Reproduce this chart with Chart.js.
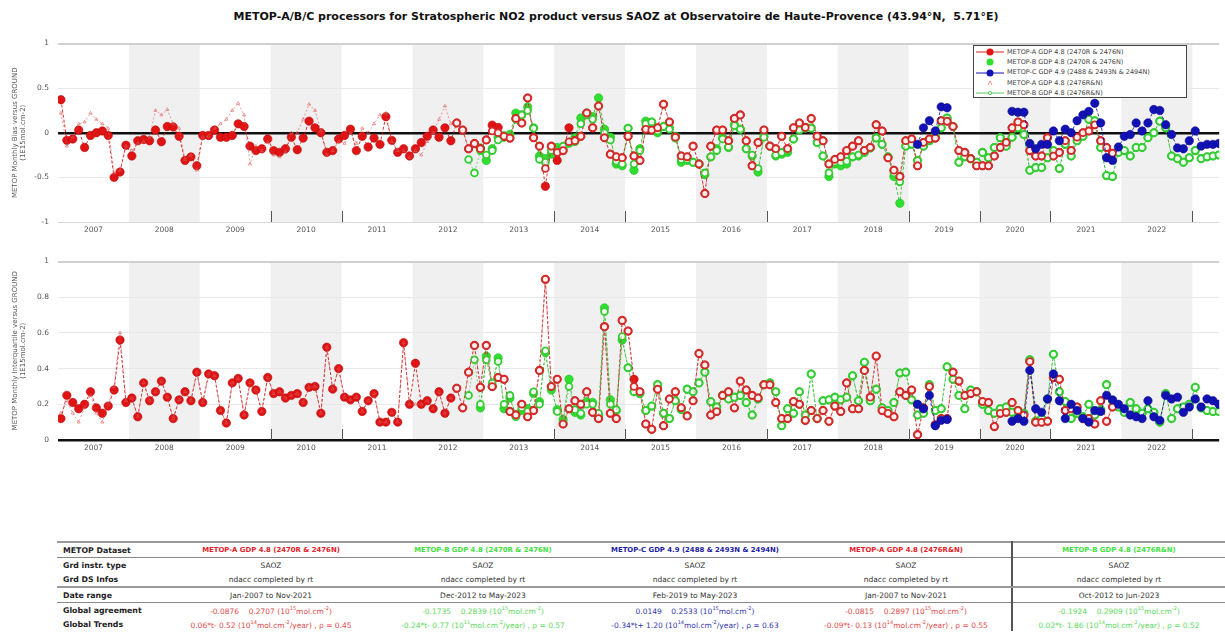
<!DOCTYPE html>
<html>
<head>
<meta charset="utf-8">
<script src="https://cdn.jsdelivr.net/npm/chart.js@4.4.1/dist/chart.umd.min.js"></script>
<style>
  body { margin:0; background:#fff; width:1225px; height:634px; overflow:hidden; position:relative; font-family:"DejaVu Sans", sans-serif; }
  #title { position:absolute; top:10px; left:0; width:1232px; text-align:center; font-weight:bold; font-size:11px; color:#111; }
  .plot { position:absolute; left:0; width:1225px; height:210px; }
  #topWrap { top:30px; }
  #botWrap { top:248px; }
  #legend { position:absolute; left:973px; top:45px; width:214px; height:53px; border:1px solid #444; background:#fff; font-size:6.5px; color:#444; box-sizing:border-box; padding-top:1px; }
  #legend div { height:10.2px; line-height:10.2px; white-space:nowrap; }
  #legend svg { vertical-align:middle; margin:0 3px 0 2px; }
  #stats { position:absolute; left:57px; top:541px; width:1168px; border-collapse:collapse; table-layout:fixed; font-size:7.5px; color:#333; border-top:2px solid #999; }
  #stats td, #stats th { height:14px; padding:0; text-align:center; white-space:nowrap; overflow:hidden; }
  #stats th { text-align:left; padding-left:6px; font-weight:bold; color:#222; font-size:7.8px; }
  #stats .hdr td { font-weight:bold; font-size:6.9px; }
  #stats tr.line td, #stats tr.line th { border-bottom:1px solid #888; }
  #stats tr.thick td, #stats tr.thick th { border-bottom:2px solid #999; }
  #stats td.last { border-left:2px solid #555; }
  #stats sup { font-size:5px; }
</style>
</head>
<body>
<div id="title">METOP-A/B/C processors for Stratospheric NO2 product versus SAOZ at Observatoire de Haute-Provence (43.94°N,&nbsp; 5.71°E)</div>
<div class="plot" id="topWrap"><canvas id="biasChart"></canvas></div>
<div class="plot" id="botWrap"><canvas id="iqrChart"></canvas></div>
<div id="legend"></div>
<table id="stats"></table>
<script>
// ---- data (monthly values, 1E15 molec/cm2) ----
const yearLabels = [2007, 2008, 2009, 2010, 2011, 2012, 2013, 2014, 2015, 2016, 2017, 2018, 2019, 2020, 2021, 2022];
const shadedYears = [2008, 2010, 2012, 2014, 2016, 2018, 2020, 2022];
const markedYears = [2010, 2011, 2014, 2015, 2017, 2019, 2020, 2021, 2023];
const biasTicks = [-1, -0.5, 0, 0.5, 1];
const iqrTicks = [0, 0.2, 0.4, 0.6, 0.8, 1];

const seriesNames = ['METOP-A GDP 4.8 (2470R & 2476N)', 'METOP-B GDP 4.8 (2470R & 2476N)', 'METOP-C GDP 4.9 (2488 & 2493N & 2494N)', 'METOP-A GDP 4.8 (2476R&N)', 'METOP-B GDP 4.8 (2476R&N)'];
// first month of each series: [year, month]
const seriesStart = [[2007, 1], [2012, 12], [2019, 2], [2007, 1], [2012, 10]];

// bias, METOP-A 2470R & 2476N  (Jan 2007 - Nov 2021)
const biasA = [
  0.37, -0.085, -0.07, 0.03, -0.165, -0.03, 0, 0.02, -0.03, -0.50, -0.44, -0.14,
  -0.26, -0.09, -0.075, -0.09, 0.03, -0.1, 0.07, 0.065, -0.04, -0.31, -0.27, -0.37,
  -0.03, -0.03, 0.03, -0.05, -0.05, -0.03, 0.1, 0.07, -0.15, -0.2, -0.18, -0.07,
  -0.2, -0.22, -0.18, -0.05, -0.19, -0.06, 0.13, 0.055, 0, -0.22, -0.2, -0.07,
  -0.03, 0.04, -0.2, -0.04, -0.16, -0.06, -0.13, 0.18, -0.085, -0.22, -0.18, -0.26,
  -0.18, -0.11, -0.04, 0.03, -0.05, 0.055, -0.09, 0.11, 0.03, -0.18, -0.12, -0.18,
  -0.08, 0.085, 0.06, -0.04, -0.06, 0.16, 0.11, 0.39, -0.055, -0.15, -0.6, -0.15,
  -0.31, -0.2, 0.055, -0.09, -0.04, 0.22, 0.055, 0.3, -0.055, -0.24, -0.27, -0.28,
  -0.04, -0.26, -0.31, 0.04, 0.03, 0.055, 0.32, 0.12, -0.05, -0.26, -0.27, -0.15,
  -0.35, -0.68, -0.15, 0.03, 0.03, -0.09, 0.16, 0.2, -0.09, -0.37, -0.11, 0.03,
  -0.15, -0.18, -0.04, -0.18, 0.055, 0.11, 0.06, 0.16, -0.04, -0.09, -0.35, -0.3,
  -0.27, -0.2, -0.15, -0.09, -0.2, -0.165, 0.09, 0.02, -0.28, -0.42, -0.49, -0.09,
  -0.07, -0.37, -0.11, -0.07, -0.06, 0.135, 0.13, 0.07, -0.2, -0.22, -0.29, -0.37,
  -0.37, -0.37, -0.26, -0.165, -0.11, 0.055, 0.12, 0.09, -0.2, -0.26, -0.26, -0.055,
  -0.26, -0.22, -0.09, -0.2, -0.05, 0, 0.02, 0.09, -0.09, -0.165, -0.23
];
// bias, METOP-B 2470R & 2476N  (Dec 2012 - May 2023)
const biasB = [
  -0.17,
  -0.31, -0.18, -0.05, -0.05, -0.02, 0.22, 0.2, 0.29, 0.055, -0.26, -0.29, -0.24,
  -0.165, -0.165, -0.11, -0.055, 0.165, 0.22, 0.18, 0.39, 0.04, -0.05, -0.35, -0.37,
  0.05, -0.42, -0.18, 0.13, 0.12, 0, 0.07, 0.055, -0.04, -0.33, -0.31, -0.33,
  -0.35, -0.47, -0.27, -0.18, -0.055, -0.165, 0.09, 0.04, -0.18, -0.26, -0.44, -0.04,
  -0.15, -0.26, -0.24, -0.22, -0.07, 0.03, 0.055, 0.055, -0.11, -0.26, -0.49, -0.35,
  -0.37, -0.35, -0.27, -0.26, -0.22, -0.17, -0.055, -0.13, -0.27, -0.49, -0.79, -0.15,
  -0.13, -0.31, -0.15, -0.09, -0.04, 0.055, 0.165, 0.07, -0.33, -0.27, -0.29, -0.33,
  -0.22, -0.28, -0.165, -0.055, -0.15, -0.05, 0.055, -0.02, -0.42, -0.39, -0.39, -0.28,
  -0.2, -0.4, -0.13, -0.26, -0.09, -0.04, 0.15, 0.135, -0.165, -0.48, -0.49, -0.22,
  -0.2, -0.26, -0.165, -0.165, -0.055, 0, 0.13, 0.055, -0.26, -0.29, -0.33, -0.28,
  -0.2, -0.29, -0.27, -0.26, -0.25
];
// bias, METOP-C  (Feb 2019 - May 2023)
const biasC = [
  -0.13, 0.055, 0.135, 0.02, 0.29, 0.28, null, null, null, null, null,
  null, null, null, null, null, 0.24, 0.23, 0.23, -0.12, -0.18, -0.13, -0.13,
  0.02, -0.09, 0.04, 0, 0.135, 0.2, 0.24, 0.33, 0.11, -0.28, -0.31, -0.16,
  -0.04, -0.02, 0.11, 0.02, 0.11, 0.26, 0.25, 0.09, -0.02, -0.17, -0.18, -0.09,
  0.02, -0.15, -0.13, -0.13, -0.12
];
// bias, METOP-A 2476R&N  (Jan 2007 - Nov 2021)
const biasARN = [
  0.22, -0.15, -0.05, 0.1, 0.12, 0.22, 0.15, 0.1, 0.05, -0.45, -0.42, -0.15,
  -0.2, -0.12, -0.1, -0.05, 0.25, 0.2, 0.26, 0.1, 0.05, -0.3, -0.25, -0.42,
  -0.05, -0.04, 0.05, 0.1, 0.15, 0.25, 0.33, 0.2, -0.35, -0.15, -0.2, -0.1,
  -0.25, -0.27, -0.22, 0, 0, 0.15, 0.32, 0.25, 0.02, -0.25, -0.2, -0.1,
  -0.12, 0, -0.12, 0.05, 0, 0.1, 0.2, 0.22, -0.1, -0.2, -0.2, -0.28,
  -0.2, -0.25, -0.1, 0, 0.15, 0.3, 0.1, 0.11, 0.03, -0.18, -0.12, -0.18,
  -0.08, 0.02, 0, -0.04, -0.06, 0.16, 0.11, 0.39, -0.055, -0.15, -0.4, -0.15,
  -0.22, -0.2, -0.1, -0.09, -0.04, 0.22, 0.055, 0.3, -0.055, -0.24, -0.27, -0.28,
  -0.04, -0.26, -0.31, 0.04, 0.03, 0.055, 0.32, 0.12, -0.05, -0.26, -0.27, -0.15,
  -0.35, -0.68, -0.15, 0.03, 0.03, -0.09, 0.16, 0.2, -0.09, -0.37, -0.11, 0.03,
  -0.15, -0.18, -0.04, -0.18, 0.055, 0.11, 0.06, 0.16, -0.04, -0.09, -0.35, -0.3,
  -0.27, -0.2, -0.15, -0.09, -0.2, -0.165, 0.09, 0.02, -0.28, -0.42, -0.49, -0.09,
  -0.07, -0.37, -0.11, -0.07, -0.06, 0.135, 0.13, 0.07, -0.2, -0.22, -0.29, -0.37,
  -0.37, -0.37, -0.26, -0.165, -0.11, 0.055, 0.12, 0.09, -0.2, -0.26, -0.26, -0.055,
  -0.26, -0.22, -0.09, -0.2, -0.05, 0, 0.02, 0.09, -0.09, -0.165, -0.23
];
// bias, METOP-B 2476R&N  (Oct 2012 - Jun 2023)
const biasBRN = [
  -0.3, -0.45, -0.2,
  -0.25, -0.2, -0.08, -0.03, -0.05, 0.15, 0.2, 0.25, 0.05, -0.3, -0.33, -0.2,
  -0.2, -0.15, -0.12, -0.1, 0.1, 0.2, 0.15, 0.3, 0, -0.08, -0.32, -0.35,
  0.05, -0.35, -0.2, 0.1, 0.12, 0.02, 0.07, 0.04, -0.06, -0.3, -0.3, -0.33,
  -0.35, -0.45, -0.27, -0.2, -0.07, -0.16, 0.08, 0.04, -0.18, -0.25, -0.4, -0.05,
  -0.15, -0.25, -0.22, -0.2, -0.07, 0.03, 0.05, 0.05, -0.11, -0.26, -0.45, -0.33,
  -0.33, -0.32, -0.27, -0.25, -0.22, -0.17, -0.06, -0.13, -0.27, -0.45, -0.55, -0.15,
  -0.13, -0.31, -0.15, -0.09, -0.04, 0.055, 0.165, 0.07, -0.33, -0.27, -0.29, -0.33,
  -0.22, -0.28, -0.165, -0.055, -0.15, -0.05, 0.055, -0.02, -0.42, -0.39, -0.39, -0.28,
  -0.2, -0.4, -0.13, -0.26, -0.09, -0.04, 0.15, 0.135, -0.165, -0.48, -0.49, -0.22,
  -0.2, -0.26, -0.165, -0.165, -0.055, 0, 0.13, 0.055, -0.26, -0.29, -0.33, -0.28,
  -0.2, -0.29, -0.27, -0.26, -0.25, -0.25
];

// interquartile, METOP-A 2470R & 2476N  (Jan 2007 - Nov 2021)
const iqrA = [
  0.12, 0.25, 0.21, 0.175, 0.2, 0.27, 0.18, 0.15, 0.19, 0.28, 0.56, 0.21,
  0.235, 0.13, 0.32, 0.22, 0.27, 0.33, 0.24, 0.12, 0.225, 0.27, 0.22, 0.38,
  0.21, 0.37, 0.36, 0.165, 0.095, 0.32, 0.345, 0.14, 0.32, 0.28, 0.16, 0.35,
  0.26, 0.27, 0.235, 0.25, 0.26, 0.21, 0.295, 0.3, 0.15, 0.52, 0.285, 0.4,
  0.24, 0.225, 0.24, 0.16, 0.22, 0.26, 0.1, 0.1, 0.155, 0.1, 0.545, 0.2,
  0.43, 0.2, 0.22, 0.175, 0.27, 0.15, 0.235, 0.29, 0.18, 0.38, 0.53, 0.295,
  0.53, 0.3, 0.35, 0.34, 0.16, 0.14, 0.2, 0.13, 0.165, 0.39, 0.9, 0.3,
  0.34, 0.09, 0.175, 0.22, 0.2, 0.27, 0.155, 0.12, 0.635, 0.15, 0.12, 0.67,
  0.61, 0.34, 0.27, 0.09, 0.06, 0.285, 0.08, 0.23, 0.27, 0.18, 0.135, 0.22,
  0.485, 0.42, 0.14, 0.16, 0.25, 0.27, 0.18, 0.33, 0.28, 0.25, 0.235, 0.31,
  0.31, 0.21, 0.12, 0.12, 0.215, 0.2, 0.11, 0.165, 0.12, 0.165, 0.105, 0.19,
  0.16, 0.32, 0.175, 0.175, 0.39, 0.24, 0.47, 0.165, 0.15, 0.13, 0.27, 0.25,
  0.28, 0.03, 0.18, 0.3, 0.085, 0.12, 0.12, 0.38, 0.33, 0.25, 0.26, 0.27,
  0.215, 0.21, 0.075, 0.15, 0.155, 0.21, 0.165, 0.14, 0.44, 0.1, 0.1, 0.105,
  0.35, 0.34, 0.165, 0.175, 0.185, 0.12, 0.12, 0.09, 0.22, 0.105, 0.185
];
// interquartile, METOP-B 2470R & 2476N  (Dec 2012 - May 2023)
const iqrB = [
  0.18,
  0.47, 0.3, 0.46, 0.175, 0.235, 0.14, 0.165, 0.175, 0.26, 0.215, 0.49, 0.28,
  0.17, 0.115, 0.34, 0.155, 0.14, 0.215, 0.21, 0.14, 0.74, 0.225, 0.165, 0.56,
  0.405, 0.27, 0.26, 0.165, 0.19, 0.31, 0.15, 0.12, 0.22, 0.17, 0.285, 0.27,
  0.32, 0.38, 0.215, 0.185, 0.25, 0.23, 0.24, 0.25, 0.21, 0.14, 0.23, 0.31,
  0.32, 0.27, 0.08, 0.175, 0.15, 0.27, 0.14, 0.37, 0.12, 0.22, 0.225, 0.24,
  0.225, 0.24, 0.36, 0.22, 0.435, 0.22, 0.285, 0.18, 0.165, 0.21, 0.375, 0.38,
  0.225, 0.14, 0.15, 0.31, 0.165, 0.175, 0.41, 0.34, 0.25, 0.175, 0.28, 0.27,
  0.2, 0.165, 0.15, 0.175, 0.185, 0.155, 0.165, 0.15, 0.45, 0.105, 0.12, 0.23,
  0.48, 0.27, 0.215, 0.12, 0.15, 0.13, 0.2, 0.14, 0.17, 0.31, 0.22, 0.185,
  0.155, 0.21, 0.175, 0.15, 0.175, 0.155, 0.1, 0.26, 0.12, 0.175, 0.185, 0.2,
  0.295, 0.18, 0.165, 0.16, 0.16
];
// interquartile, METOP-C  (Feb 2019 - May 2023)
const iqrC = [
  0.2, 0.175, 0.25, 0.08, 0.11, 0.115, null, null, null, null, null,
  null, null, null, null, null, 0.105, 0.12, 0.105, 0.39, 0.175, 0.155, 0.23,
  0.37, 0.22, 0.12, 0.2, 0.165, 0.12, 0.1, 0.165, 0.16, 0.25, 0.225, 0.2,
  0.175, 0.14, 0.13, 0.12, 0.22, 0.13, 0.11, 0.25, 0.23, 0.24, 0.155, 0.185,
  0.23, 0.185, 0.23, 0.22, 0.2
];
// interquartile, METOP-A 2476R&N  (Jan 2007 - Nov 2021)
const iqrARN = [
  0.15, 0.22, 0.15, 0.1, 0.18, 0.25, 0.15, 0.1, 0.2, 0.3, 0.6, 0.22,
  0.235, 0.13, 0.32, 0.22, 0.27, 0.33, 0.24, 0.12, 0.225, 0.27, 0.22, 0.38,
  0.21, 0.37, 0.36, 0.165, 0.095, 0.32, 0.345, 0.14, 0.32, 0.28, 0.16, 0.35,
  0.26, 0.27, 0.235, 0.25, 0.26, 0.21, 0.295, 0.3, 0.15, 0.52, 0.285, 0.4,
  0.24, 0.225, 0.24, 0.16, 0.22, 0.26, 0.1, 0.1, 0.155, 0.1, 0.545, 0.2,
  0.2, 0.2, 0.22, 0.175, 0.27, 0.15, 0.235, 0.29, 0.18, 0.38, 0.53, 0.295,
  0.53, 0.3, 0.35, 0.34, 0.16, 0.14, 0.2, 0.13, 0.165, 0.39, 0.9, 0.3,
  0.34, 0.09, 0.175, 0.22, 0.2, 0.27, 0.155, 0.12, 0.635, 0.15, 0.12, 0.67,
  0.61, 0.3, 0.27, 0.09, 0.06, 0.285, 0.08, 0.23, 0.27, 0.18, 0.135, 0.22,
  0.485, 0.42, 0.14, 0.16, 0.25, 0.27, 0.18, 0.33, 0.28, 0.25, 0.235, 0.31,
  0.31, 0.21, 0.12, 0.12, 0.215, 0.2, 0.11, 0.165, 0.12, 0.165, 0.105, 0.19,
  0.16, 0.32, 0.175, 0.175, 0.39, 0.24, 0.47, 0.165, 0.15, 0.13, 0.27, 0.25,
  0.28, 0.03, 0.18, 0.3, 0.085, 0.12, 0.12, 0.38, 0.33, 0.25, 0.26, 0.27,
  0.215, 0.21, 0.075, 0.15, 0.155, 0.21, 0.165, 0.14, 0.44, 0.1, 0.1, 0.105,
  0.35, 0.34, 0.165, 0.175, 0.185, 0.12, 0.12, 0.09, 0.22, 0.105, 0.185
];
// interquartile, METOP-B 2476R&N  (Oct 2012 - Jun 2023)
const iqrBRN = [
  0.25, 0.45, 0.2,
  0.45, 0.32, 0.44, 0.2, 0.25, 0.13, 0.18, 0.16, 0.27, 0.2, 0.5, 0.3,
  0.16, 0.1, 0.3, 0.17, 0.15, 0.2, 0.2, 0.15, 0.72, 0.2, 0.17, 0.58,
  0.405, 0.27, 0.26, 0.165, 0.19, 0.31, 0.15, 0.12, 0.22, 0.17, 0.285, 0.27,
  0.32, 0.38, 0.215, 0.185, 0.25, 0.23, 0.24, 0.25, 0.21, 0.14, 0.23, 0.31,
  0.32, 0.27, 0.08, 0.175, 0.15, 0.27, 0.14, 0.37, 0.12, 0.22, 0.225, 0.24,
  0.225, 0.24, 0.36, 0.22, 0.435, 0.22, 0.285, 0.18, 0.165, 0.21, 0.375, 0.38,
  0.225, 0.14, 0.15, 0.31, 0.165, 0.175, 0.41, 0.34, 0.25, 0.175, 0.28, 0.27,
  0.2, 0.165, 0.15, 0.175, 0.185, 0.155, 0.165, 0.15, 0.45, 0.105, 0.12, 0.23,
  0.48, 0.27, 0.215, 0.12, 0.15, 0.13, 0.2, 0.14, 0.17, 0.31, 0.22, 0.185,
  0.155, 0.21, 0.175, 0.15, 0.175, 0.155, 0.1, 0.26, 0.12, 0.175, 0.185, 0.2,
  0.295, 0.18, 0.165, 0.16, 0.16, 0.17
];

// table contents
const grdInstr = 'SAOZ';
const grdInfo = 'ndacc completed by rt';
const dateRanges = ['Jan-2007 to Nov-2021', 'Dec-2012 to May-2023', 'Feb-2019 to May-2023', 'Jan-2007 to Nov-2021', 'Oct-2012 to Jun-2023'];
const agreeBias = [-0.0876, -0.1735, 0.0149, -0.0815, -0.1924];
const agreeIqr = [0.2707, 0.2839, 0.2533, 0.2897, 0.2909];
const trendSlope = [0.06, -0.24, -0.34, -0.09, 0.02];
const trendOffset = [-0.52, -0.77, 1.20, -0.13, -1.86];
const trendExp = [14, 11, 14, 14, 14];
const trendRho = [0.45, 0.57, 0.63, 0.55, 0.52];

// ---- styles ----
const FONT = '"DejaVu Sans", sans-serif';
const X_MIN = 2007, X_MAX = 2023.38;
const headColors = ['#e3202a', '#3fe03f', '#1c1ca0', '#e3202a', '#3fe03f'];
const textColors = ['#e24a4a', '#5cd95c', '#3535b0', '#e24a4a', '#5cd95c'];

function monthly(start, values) {
  return values.map((v, i) => ({ x: start[0] + (start[1] - 1 + i + 0.5) / 12, y: v }));
}

const filled = (line, fill, edge) => ({
  borderColor: line, borderWidth: 1, borderDash: [3, 2],
  pointRadius: 4.2, pointHoverRadius: 4.2, pointBackgroundColor: fill, pointBorderColor: edge, pointBorderWidth: 0.6
});
const isSmall = (c, before) => c.raw && c.raw.x < before;
const opened = (line, ring, center, smallBefore) => ({
  borderColor: line, borderWidth: 0.8, borderDash: [2, 2],
  pointRadius: c => isSmall(c, smallBefore) ? 1.8 : 3.4,
  pointStyle: c => isSmall(c, smallBefore) ? 'triangle' : 'circle',
  pointBackgroundColor: c => isSmall(c, smallBefore) ? 'rgba(255,255,255,0)' : center,
  pointBorderColor: c => isSmall(c, smallBefore) ? 'rgba(220,90,90,0.8)' : ring,
  pointBorderWidth: c => isSmall(c, smallBefore) ? 0.7 : 1.8
});

function buildDatasets(a, b, c, arn, brn) {
  // first dataset is drawn on top
  return [
    Object.assign({ label: seriesNames[2], data: monthly(seriesStart[2], c) }, filled('rgba(20,20,170,0.85)', '#1212b4', '#0a0a90')),
    Object.assign({ label: seriesNames[3], data: monthly(seriesStart[3], arn) }, opened('rgba(215,80,80,0.7)', '#d42a2a', '#fff0f0', 2012.55)),
    Object.assign({ label: seriesNames[4], data: monthly(seriesStart[4], brn) }, opened('rgba(60,190,60,0.8)', '#33cc33', '#f4fff4', 0)),
    Object.assign({ label: seriesNames[0], data: monthly(seriesStart[0], a) }, filled('rgba(205,20,20,0.85)', '#e01414', '#b80a0a')),
    Object.assign({ label: seriesNames[1], data: monthly(seriesStart[1], b) }, filled('rgba(40,190,40,0.85)', '#2fe02f', '#22b822'))
  ];
}

const yearBands = {
  id: 'yearBands',
  beforeDraw(chart) {
    const { ctx, chartArea: a, scales: { x } } = chart;
    ctx.save();
    ctx.fillStyle = '#f0f0f0';
    shadedYears.forEach(yr => {
      const x0 = Math.max(x.getPixelForValue(yr), a.left);
      const x1 = Math.min(x.getPixelForValue(yr + 1), a.right);
      if (x1 > x0) ctx.fillRect(x0, a.top, x1 - x0, a.bottom - a.top);
    });
    ctx.restore();
  },
  beforeDatasetsDraw(chart) {
    const { ctx, chartArea: a, scales: { x } } = chart;
    ctx.save();
    ctx.strokeStyle = '#555';
    ctx.lineWidth = 1;
    markedYears.forEach(yr => {
      const px = Math.round(x.getPixelForValue(yr)) + 0.5;
      if (px < a.left || px > a.right) return;
      ctx.beginPath();
      ctx.moveTo(px, a.bottom);
      ctx.lineTo(px, a.bottom - 11);
      ctx.stroke();
    });
    ctx.restore();
  }
};

function makeChart(id, datasets, yMin, yMax, yTicks, yTitle) {
  return new Chart(document.getElementById(id), {
    type: 'line',
    data: { datasets },
    options: {
      animation: false, responsive: true, maintainAspectRatio: false, devicePixelRatio: 1,
      spanGaps: false,
      layout: { padding: { top: 11, left: 0, right: 0, bottom: 0 } },
      plugins: { legend: { display: false }, tooltip: { enabled: false } },
      scales: {
        x: {
          type: 'linear', min: X_MIN, max: X_MAX,
          afterBuildTicks: s => { s.ticks = yearLabels.map(y => ({ value: y + 0.5 })); },
          afterFit: s => { s.height = 18; },
          grid: { display: false, drawTicks: false },
          border: { display: false },
          ticks: { autoSkip: false, maxRotation: 0, padding: 4, color: '#555', font: { size: 7.5, family: FONT },
                   callback: v => String(Math.floor(v)) }
        },
        y: {
          min: yMin, max: yMax,
          afterBuildTicks: s => { s.ticks = yTicks.map(v => ({ value: v })); },
          afterFit: s => { s.width = 58; },
          border: { display: false },
          grid: {
            drawTicks: false,
            color: c => c.tick.value === 0 ? '#111' : (c.tick.value === yMax ? '#d0d0d0' : (c.tick.value === yMin ? '#d8d8d8' : '#e9e9e9')),
            lineWidth: c => c.tick.value === 0 ? 2.5 : (c.tick.value === yMax ? 2 : 1)
          },
          ticks: { padding: 9, color: '#555', font: { size: 7.5, family: FONT }, callback: v => String(v) },
          title: { display: true, text: yTitle, color: '#555', font: { size: 7, family: FONT }, padding: { top: 11, bottom: 0 } }
        }
      }
    },
    plugins: [yearBands]
  });
}

makeChart('biasChart', buildDatasets(biasA, biasB, biasC, biasARN, biasBRN), -1, 1, biasTicks,
  ['METOP Monthly Bias versus GROUND', '(1E15mol.cm-2)']);
makeChart('iqrChart', buildDatasets(iqrA, iqrB, iqrC, iqrARN, iqrBRN), 0, 1, iqrTicks,
  ['METOP Monthly Interquartile versus GROUND', '(1E15mol.cm-2)']);

// ---- legend ----
const legendSwatch = [
  '<line x1="0" y1="4" x2="28" y2="4" stroke="#d42020" stroke-width="1"/><circle cx="14" cy="4" r="3.5" fill="#e01616"/>',
  '<circle cx="14" cy="4" r="3.5" fill="#2fe02f"/>',
  '<line x1="0" y1="4" x2="28" y2="4" stroke="#1212b4" stroke-width="1"/><circle cx="14" cy="4" r="3.5" fill="#1212b4"/>',
  '<path d="M12 6 L14 2 L16 6" fill="none" stroke="#e07070" stroke-width="0.8"/>',
  '<line x1="0" y1="4" x2="28" y2="4" stroke="#33bb33" stroke-width="0.8"/><circle cx="14" cy="4" r="1.6" fill="#fff" stroke="#33bb33" stroke-width="0.8"/>'
];
document.getElementById('legend').innerHTML = seriesNames.map((n, i) =>
  `<div><svg width="28" height="8">${legendSwatch[i]}</svg>${n.replace(/&/g, '&amp;')}</div>`).join('');

// ---- statistics table ----
const esc = s => s.replace(/&/g, '&amp;');
const cell = (i, html) => `<td${i === 4 ? ' class="last"' : ''} style="color:${textColors[i]}">${html}</td>`;
const plain = (i, html) => `<td${i === 4 ? ' class="last"' : ''}>${html}</td>`;
const idx = [0, 1, 2, 3, 4];
const sign = v => (v >= 0 ? '+ ' : '- ') + Math.abs(v).toFixed(2);
const rows = [
  `<tr class="line hdr"><th>METOP Dataset</th>${idx.map(i => `<td${i === 4 ? ' class="last"' : ''} style="color:${headColors[i]}">${esc(seriesNames[i])}</td>`).join('')}</tr>`,
  `<tr><th>Grd instr. type</th>${idx.map(i => plain(i, grdInstr)).join('')}</tr>`,
  `<tr class="thick"><th>Grd DS Infos</th>${idx.map(i => plain(i, grdInfo)).join('')}</tr>`,
  `<tr class="line"><th>Date range</th>${idx.map(i => plain(i, dateRanges[i])).join('')}</tr>`,
  `<tr><th>Global agreement</th>${idx.map(i => cell(i, `${agreeBias[i].toFixed(4)}&nbsp;&nbsp;&nbsp; ${agreeIqr[i].toFixed(4)} (10<sup>15</sup>mol.cm<sup>-2</sup>)`)).join('')}</tr>`,
  `<tr><th>Global Trends</th>${idx.map(i => cell(i, `${trendSlope[i].toFixed(2)}*t${sign(trendOffset[i])} (10<sup>${trendExp[i]}</sup>mol.cm<sup>-2</sup>/year) , ρ = ${trendRho[i].toFixed(2)}`)).join('')}</tr>`
];
document.getElementById('stats').innerHTML =
  '<colgroup><col style="width:108px"><col style="width:212px"><col style="width:212px"><col style="width:212px"><col style="width:211px"><col style="width:213px"></colgroup>' +
  rows.join('');
</script>
</body>
</html>
